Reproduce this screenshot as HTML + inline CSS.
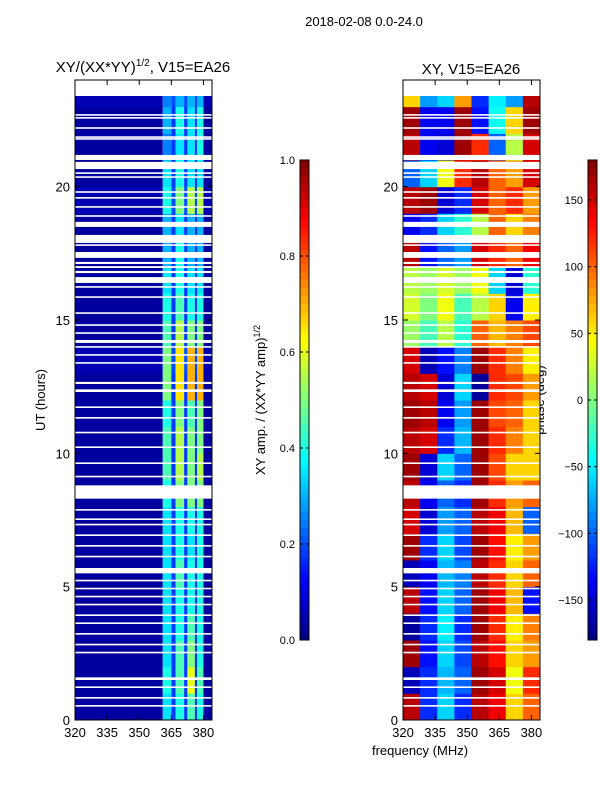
<!DOCTYPE html>
<html><head><meta charset="utf-8"><style>
body{margin:0;background:#fff;}
svg{display:block;font-family:"Liberation Sans","DejaVu Sans",sans-serif;}
</style></head><body>
<svg id="fig" width="600" height="800" xmlns="http://www.w3.org/2000/svg">
<rect width="600" height="800" fill="#fff"/>
<text x="364" y="26" font-size="13" text-anchor="middle">2018-02-08 0.0-24.0</text>
<text x="143" y="72" font-size="15" text-anchor="middle">XY/(XX*YY)<tspan font-size="10" dy="-6">1/2</tspan><tspan dy="6">, V15=EA26</tspan></text>
<text x="471" y="74" font-size="15" text-anchor="middle">XY, V15=EA26</text>
<text x="420" y="755" font-size="13" text-anchor="middle">frequency (MHz)</text>
<text transform="translate(45,400) rotate(-90)" font-size="13" text-anchor="middle">UT (hours)</text>
<text transform="translate(265,400) rotate(-90)" font-size="13" text-anchor="middle">XY amp. / (XX*YY amp)<tspan font-size="9" dy="-5">1/2</tspan></text>
<text transform="translate(544,400) rotate(-90)" font-size="13" text-anchor="middle">phase (deg)</text>
<g id="left"></g><g id="right"></g><g id="cb1"></g><g id="cb2"></g>
</svg>
<script>
// ---- data ----
const freqRange = [320, 384];
const hourRange = [0, 24];
const dataMaxHour = 23.4;
const xTicks = [320, 335, 350, 365, 380];
const yTicks = [0, 5, 10, 15, 20];
const ampColumnEdges = [320, 361, 365, 367, 371, 372.5, 376, 377, 380, 384];
const ampColumnBand = [0, 1, 0, 2, 0, 3, 0, 4, 0];
// per hour: [background, band1, band2, band3, band4]
const ampValues = [
[.03,.35,.4,.45,.4],[.03,.4,.45,.6,.45],[.03,.35,.45,.5,.4],[.03,.35,.4,.45,.4],
[.03,.35,.4,.4,.4],[.03,.35,.45,.4,.4],[.03,.35,.4,.35,.4],[.03,.35,.4,.4,.4],
[.03,.4,.5,.5,.5],[.03,.45,.55,.5,.55],[.03,.45,.55,.5,.5],[.03,.4,.5,.45,.5],
[.03,.5,.65,.7,.7],[.05,.5,.65,.7,.7],[.03,.45,.55,.5,.5],[.03,.4,.45,.4,.4],
[.03,.35,.4,.35,.35],[.03,.3,.4,.3,.3],[.03,.3,.35,.3,.3],[.05,.4,.5,.55,.55],
[.03,.35,.4,.35,.35],[.03,.25,.35,.35,.4],[.03,.3,.4,.35,.4],[.05,.25,.3,.3,.3]];
const phaseColumnEdges = [320, 328, 336, 344, 352, 360, 368, 376, 384];
const phaseValues = [
[160,-120,-60,-120,160,140,60,100],[-160,-120,-70,-100,170,150,40,120],
[170,-130,-60,-110,160,130,60,80],[-170,-120,-50,-120,170,120,50,90],
[160,-130,-60,-100,170,140,70,-130],[-160,-140,-70,-90,160,120,60,100],
[170,-120,-60,-110,170,130,50,80],[150,-150,-80,-100,160,140,70,-100],
[160,-140,-100,-120,170,120,80,100],[170,-150,-60,-100,170,110,60,60],
[160,150,-120,-70,170,120,90,60],[170,160,-140,-80,170,110,100,60],
[160,150,-150,-60,-170,120,110,80],[150,-160,-130,-90,170,120,90,50],
[10,-20,20,-30,100,70,90,110],[30,0,40,-20,20,60,-140,50],
[20,10,30,10,40,-60,-150,-30],[160,-130,-100,-80,150,120,100,140],
[-140,-120,-60,-30,20,100,60,90],[160,170,-150,-120,150,100,120,80],
[-100,-60,40,120,160,100,80,150],[160,-140,-150,170,120,-100,20,150],
[170,-140,-140,170,-130,-40,60,170],[60,-80,-60,80,-120,-50,-80,160]];
// flagged (white) time ranges in hours [start, end]
const gaps = [[22.66,22.72],[22.55,22.61],[22.17,22.23],[21.83,21.89],[21.76,21.82],
[21.0,21.19],[20.66,20.93],[20.48,20.54],[20.33,20.39],[19.77,19.83],[19.55,19.61],
[19.21,19.27],[18.87,18.93],[18.49,18.68],[17.89,18.19],[17.78,17.84],[17.33,17.55],
[17.1,17.18],[16.95,17.02],[16.76,16.84],[16.39,16.61],[16.21,16.27],[15.83,15.89],
[15.23,15.29],[14.78,14.84],[14.48,14.54],[14.14,14.25],[13.96,14.02],[13.66,13.72],
[13.36,13.42],[12.6,12.68],[12.3,12.4],[11.7,11.76],[11.3,11.36],[10.75,10.81],
[10.2,10.26],[9.6,9.66],[9.1,9.16],[8.3,8.8],[7.85,7.91],[7.5,7.56],[7.3,7.36],
[6.9,6.96],[6.5,6.56],[6.1,6.16],[5.5,5.7],[5.2,5.26],[4.9,4.96],[4.6,4.66],
[4.3,4.36],[3.9,3.96],[3.6,3.66],[3.2,3.26],[2.8,2.86],[2.5,2.56],[1.5,1.6],
[1.2,1.26],[0.8,0.86],[0.5,0.56]];
const ampTicks = [0.0, 0.2, 0.4, 0.6, 0.8, 1.0];
const phaseTicks = [-150, -100, -50, 0, 50, 100, 150];

// ---- rendering ----
const NS = "http://www.w3.org/2000/svg";
function mk(tag, attrs, parent){const e=document.createElementNS(NS,tag);for(const k in attrs)e.setAttribute(k,attrs[k]);parent.appendChild(e);return e;}
function jet(t){t=Math.max(0,Math.min(1,t));
 const r=Math.max(0,Math.min(1,1.5-Math.abs(4*t-3))),g=Math.max(0,Math.min(1,1.5-Math.abs(4*t-2))),b=Math.max(0,Math.min(1,1.5-Math.abs(4*t-1)));
 return `rgb(${Math.round(r*255)},${Math.round(g*255)},${Math.round(b*255)})`;}
function panel(gid, x0, y0, w, h){
 const X=f=>x0+(f-freqRange[0])/(freqRange[1]-freqRange[0])*w;
 const Y=hr=>y0+h-(hr-hourRange[0])/(hourRange[1]-hourRange[0])*h;
 return {g:document.getElementById(gid),X,Y,x0,y0,w,h};}
const L=panel('left',75,80,137,640), R=panel('right',403,80,137,640);
// left heatmap
ampValues.forEach((row,hi)=>{
 const top=Math.min(hi+1,dataMaxHour);
 ampColumnBand.forEach((b,ci)=>{
  const v = b===0 ? row[0] + (ci>0 && ci<8 ? 0.15 : 0) : row[b];
  const r=mk('rect',{x:L.X(ampColumnEdges[ci]),y:L.Y(top),width:L.X(ampColumnEdges[ci+1])-L.X(ampColumnEdges[ci]),height:L.Y(hi)-L.Y(top)+0.5,fill:jet(v)},L.g);
  
  
 });});
// right heatmap
phaseValues.forEach((row,hi)=>{
 const top=Math.min(hi+1,dataMaxHour);
 row.forEach((v,ci)=>{
  const r=mk('rect',{x:R.X(phaseColumnEdges[ci]),y:R.Y(top),width:R.X(phaseColumnEdges[ci+1])-R.X(phaseColumnEdges[ci])+0.3,height:R.Y(hi)-R.Y(top)+0.5,fill:jet((v+180)/360)},R.g);
  
  
 });});
[L,R].forEach((P,pi)=>{
 gaps.forEach(gp=>{
  const r=mk('rect',{x:P.x0,y:P.Y(gp[1]),width:P.w,height:Math.max(1.5,P.Y(gp[0])-P.Y(gp[1])),fill:'#fff'},P.g);
  
  
 });
 const fr=mk('rect',{x:P.x0,y:P.y0,width:P.w,height:P.h,fill:'none',stroke:'#000','stroke-width':1},P.g);
 
 
 xTicks.forEach(t=>{
  mk('line',{x1:P.X(t),x2:P.X(t),y1:P.y0+P.h,y2:P.y0+P.h-5,stroke:'#000'},P.g);
  mk('line',{x1:P.X(t),x2:P.X(t),y1:P.y0,y2:P.y0+5,stroke:'#000'},P.g);
  const tx=mk('text',{x:P.X(t),y:P.y0+P.h+17,'font-size':13,'text-anchor':'middle'},P.g);tx.textContent=t;
  
  
 });
 yTicks.forEach(t=>{
  mk('line',{x1:P.x0,x2:P.x0+5,y1:P.Y(t),y2:P.Y(t),stroke:'#000'},P.g);
  mk('line',{x1:P.x0+P.w,x2:P.x0+P.w-5,y1:P.Y(t),y2:P.Y(t),stroke:'#000'},P.g);
  const tx=mk('text',{x:P.x0-5,y:P.Y(t)+5,'font-size':13,'text-anchor':'end'},P.g);tx.textContent=t;
  
  
 });
});
function colorbar(gid,x,y,w,h,ticks,lo,hi,fmt){
 const g=document.getElementById(gid);const n=64;
 for(let i=0;i<n;i++){mk('rect',{x:x,y:y+h-(i+1)*h/n,width:w,height:h/n+0.5,fill:jet((i+0.5)/n)},g);}
 const fr=mk('rect',{x:x,y:y,width:w,height:h,fill:'none',stroke:'#000'},g);
 
 
 ticks.forEach(t=>{const yy=y+h-(t-lo)/(hi-lo)*h;
  mk('line',{x1:x,x2:x+3,y1:yy,y2:yy,stroke:'#000'},g);mk('line',{x1:x+w,x2:x+w-3,y1:yy,y2:yy,stroke:'#000'},g);
  const tx=mk('text',{x:x-5,y:yy+4,'font-size':11,'text-anchor':'end'},g);tx.textContent=fmt(t);
  
  
 });}
colorbar('cb1',300,160,9,480,ampTicks,0,1,t=>t.toFixed(1));
colorbar('cb2',588,160,9,480,phaseTicks,-180,180,t=>t<0?'\u2212'+(-t):String(t));
</script>
</body></html>
